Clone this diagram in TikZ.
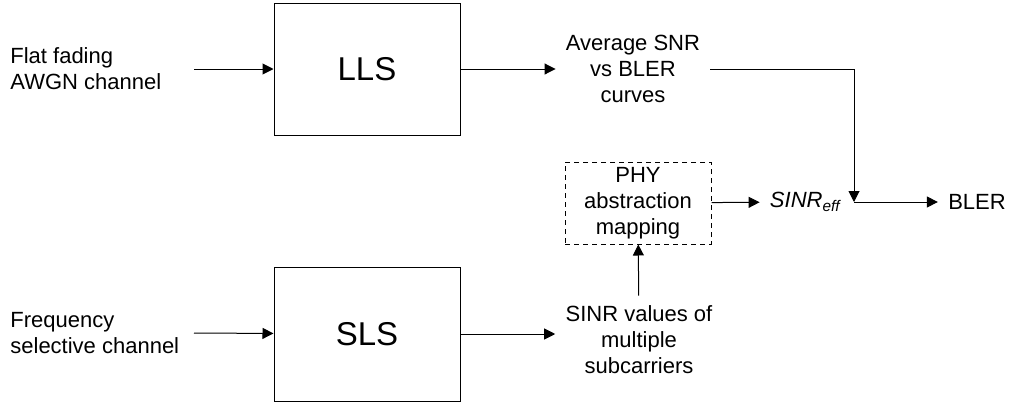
\documentclass[tikz,border=0pt]{standalone}
\usepackage{fontspec}
\setmainfont{Liberation Sans}
\usetikzlibrary{arrows.meta}

\begin{document}
\begin{tikzpicture}[x=0.5pt,y=-0.5pt,
    txt/.style={align=center,inner sep=5pt,font=\fontsize{11}{13}\selectfont},
    blk/.style={draw,line width=0.5pt,minimum width=93pt,minimum height=66pt,font=\fontsize{16.5}{18}\selectfont},
    arr/.style={line width=0.5pt,-{Triangle[length=5.5pt,width=5.5pt]}}]
    \useasboundingbox (0,0) rectangle (1014,402);
    % top row
    \node[txt,align=left,anchor=west,inner sep=0pt] (flat) at (10,69) {Flat fading\\AWGN channel};
    \coordinate (in1) at (194,69);
    \node[blk] (lls) at (367,69) {LLS};
    \node[txt] (avg) at (633,69) {Average SNR\\vs BLER\\curves};
    % middle row
    \node[txt,draw,dashed,dash pattern=on 2.5pt off 2pt,line width=0.5pt,inner sep=2pt,minimum width=73pt,minimum height=41pt] (phy) at (638,203) {PHY\\abstraction\\mapping};
    \node[txt] (eff) at (806,202) {\textit{SINR}\textsubscript{\textit{eff}}};
    \coordinate (join) at (854,202);
    \node[txt] (bler) at (977,202) {BLER};
    % bottom row
    \node[txt,align=left,anchor=west,inner sep=0pt] (freq) at (10,333) {Frequency\\selective channel};
    \coordinate (in2) at (194,333);
    \node[blk,minimum height=67pt] (sls) at (367,334) {SLS};
    \node[txt] (sinr) at (639,340) {SINR values of\\multiple\\subcarriers};

    \draw[arr] (in1) -- (lls);
    \draw[arr] (lls) -- (lls.east -| avg.west);
    \draw[arr] (avg.east) -| (join);
    \draw[arr] (phy) -- (eff);
    \draw[arr] (join) -- (bler);
    \draw[arr] (sinr) -- (phy);
    \draw[arr] (in2) -- (sls);
    \draw[arr] (sls) -- (sls.east -| sinr.west);
\end{tikzpicture}
\end{document}
